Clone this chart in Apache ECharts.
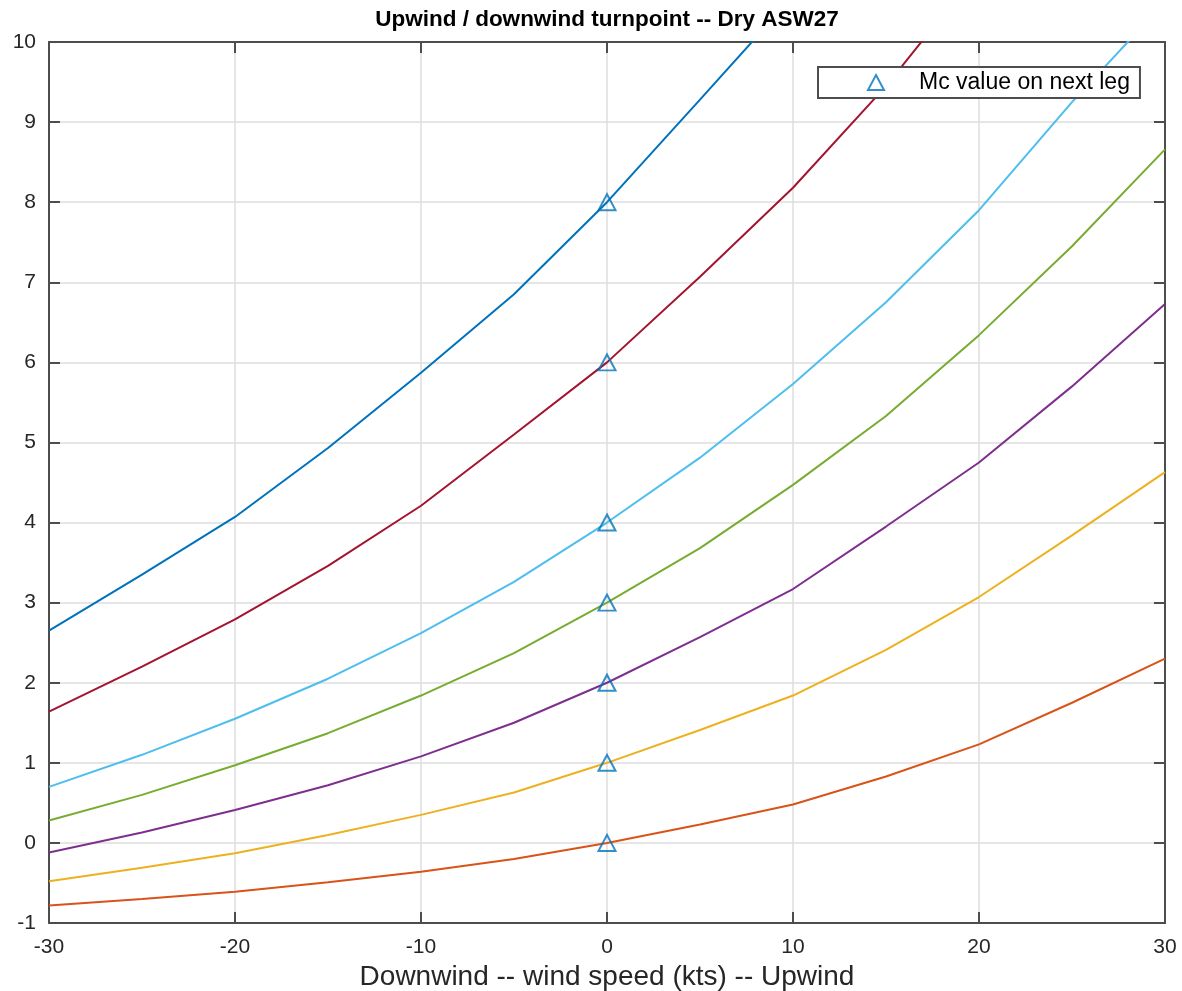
<!DOCTYPE html>
<html>
<head>
<meta charset="utf-8">
<title>Upwind / downwind turnpoint</title>
<script src="https://cdn.jsdelivr.net/npm/echarts@6/dist/echarts.min.js"></script>
<style>
  html, body { margin: 0; padding: 0; background: #fff; }
  #chart { width: 1182px; height: 991px; }
</style>
</head>
<body>
<div id="chart"></div>
<script>
// wind speed, kts (negative = downwind)
var windSpeed = [-30, -25, -20, -15, -10, -5, 0, 5, 10, 15, 20, 25, 30];

// equivalent Mc on the current leg, one curve per Mc on the next leg
var mc0 = [-0.78, -0.70, -0.61, -0.49, -0.36, -0.20, 0, 0.23, 0.48, 0.83, 1.23, 1.75, 2.30];
var mc1 = [-0.48, -0.31, -0.13, 0.10, 0.35, 0.63, 1, 1.41, 1.84, 2.41, 3.07, 3.84, 4.63];
var mc2 = [-0.12, 0.13, 0.41, 0.72, 1.08, 1.50, 2, 2.57, 3.17, 3.95, 4.75, 5.70, 6.73];
var mc3 = [0.28, 0.60, 0.97, 1.37, 1.84, 2.37, 3, 3.68, 4.47, 5.33, 6.34, 7.45, 8.66];
var mc4 = [0.70, 1.10, 1.55, 2.05, 2.62, 3.26, 4, 4.81, 5.73, 6.75, 7.90, 9.25, 10.50];
var mc6 = [1.64, 2.20, 2.79, 3.46, 4.21, 5.10, 6, 7.07, 8.18, 9.45, 10.90];
var mc8 = [2.65, 3.35, 4.07, 4.93, 5.87, 6.85, 8, 9.28, 10.57];

// markers at zero wind
var nextLegMc = [0, 1, 2, 3, 4, 6, 8];

var font = '"Liberation Sans", Arial, Helvetica, sans-serif';
var ink = '#262626';
var frame = '#4d4d4d';

function pairs(ys) {
  return ys.map(function (y, i) { return [windSpeed[i], y]; });
}

function curve(ys, color) {
  return {
    type: 'line',
    data: pairs(ys),
    showSymbol: false,
    symbol: 'none',
    silent: true,
    clip: true,
    lineStyle: { color: color, width: 2 },
    z: 2
  };
}

var chart = echarts.init(document.getElementById('chart'), null, { renderer: 'canvas' });

// top and right edges of the box, ticks only
var boxAxis = {
  axisLine: { show: true, onZero: false, lineStyle: { color: frame, width: 2 } },
  axisTick: { show: true, inside: true, length: 11, lineStyle: { color: frame, width: 2 } },
  axisLabel: { show: false },
  splitLine: { show: false }
};

chart.setOption({
  animation: false,
  backgroundColor: '#fff',
  title: {
    text: 'Upwind / downwind turnpoint -- Dry ASW27',
    left: 602,
    textAlign: 'center',
    top: 3,
    textStyle: { fontFamily: font, fontSize: 22.5, fontWeight: 'bold', color: '#000' }
  },
  grid: { left: 49, right: 17, top: 42, bottom: 68, outerBoundsMode: 'none' },
  legend: {
    left: 818,
    top: 67,
    padding: [4, 10, 4, 49],
    itemWidth: 16,
    itemHeight: 15,
    borderColor: frame,
    borderWidth: 2,
    backgroundColor: '#fff',
    data: [{
      name: 'Mc value on next leg',
      icon: 'triangle',
      itemStyle: { color: 'rgba(0,0,0,0)', borderColor: '#0072BD', borderWidth: 2 }
    }],
    formatter: function (name) { return '{gap|}{t|' + name + '}'; },
    textStyle: {
      rich: {
        gap: { width: 30 },
        t: { fontFamily: font, fontSize: 23, color: '#000' }
      }
    }
  },
  xAxis: [{
    type: 'value',
    min: -30,
    max: 30,
    interval: 10,
    position: 'bottom',
    name: 'Downwind -- wind speed (kts) -- Upwind',
    nameLocation: 'middle',
    nameGap: 34,
    nameTextStyle: { fontFamily: font, fontSize: 28, color: ink },
    axisLine: { show: true, onZero: false, lineStyle: { color: frame, width: 2 } },
    axisTick: { show: true, inside: true, length: 11, lineStyle: { color: frame, width: 2 } },
    axisLabel: { fontFamily: font, fontSize: 21, color: ink, margin: 14 },
    splitLine: { show: true, lineStyle: { color: '#dedede', width: 1.5 } }
  }, Object.assign({
    type: 'value', min: -30, max: 30, interval: 10, position: 'top'
  }, boxAxis)],
  yAxis: [{
    type: 'value',
    min: -1,
    max: 10,
    interval: 1,
    position: 'left',
    axisLine: { show: true, onZero: false, lineStyle: { color: frame, width: 2 } },
    axisTick: { show: true, inside: true, length: 11, lineStyle: { color: frame, width: 2 } },
    axisLabel: { fontFamily: font, fontSize: 21, color: ink, margin: 13 },
    splitLine: { show: true, lineStyle: { color: '#dedede', width: 1.5 } }
  }, Object.assign({
    type: 'value', min: -1, max: 10, interval: 1, position: 'right'
  }, boxAxis)],
  series: [
    curve(mc8, '#0072BD'),
    curve(mc0, '#D95319'),
    curve(mc1, '#EDB120'),
    curve(mc2, '#7E2F8E'),
    curve(mc3, '#77AC30'),
    curve(mc4, '#4DBEEE'),
    curve(mc6, '#A2142F'),
    {
      name: 'Mc value on next leg',
      type: 'scatter',
      data: nextLegMc.map(function (v) { return [0, v]; }),
      symbol: 'triangle',
      symbolSize: [17, 16],
      itemStyle: { color: 'rgba(0,0,0,0)', borderColor: '#0072BD', borderWidth: 2 },
      z: 5
    }
  ]
});
</script>
</body>
</html>
